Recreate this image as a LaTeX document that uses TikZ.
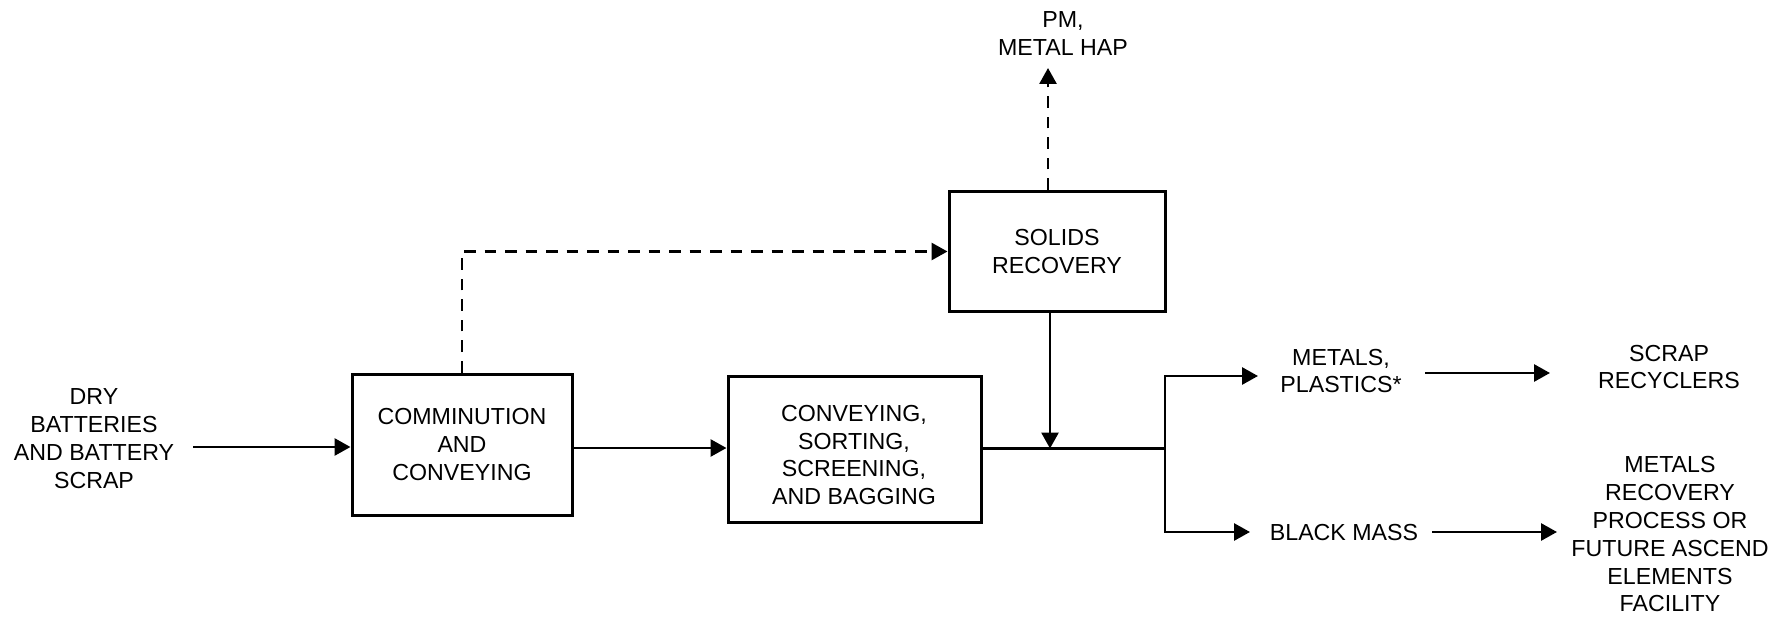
\documentclass[tikz,border=0pt]{standalone}
\usepackage{fontspec}
\setmainfont{Liberation Sans}
\usetikzlibrary{arrows.meta}
\begin{document}
\begin{tikzpicture}[x=1pt,y=-1pt,
  every node/.style={font=\fontsize{23.2}{27.8}\selectfont, align=center},
  box/.style={draw, line width=3pt, inner sep=0pt},
  lbl/.style={inner sep=0pt},
  arr/.style={line width=2.8pt, -{Triangle[length=16pt,width=17pt]}},
  ln/.style={line width=2.8pt},
  dsh/.style={dash pattern=on 11.5pt off 9pt}]
\useasboundingbox (0,0) rectangle (1782,617);
% boxes
\node[box, minimum width=220pt, minimum height=141pt] (comm) at (462,444.5) {COMMINUTION\\AND\\CONVEYING};
\node[box, minimum width=253pt, minimum height=146pt] (conv) at (854.5,449) {};
\node[lbl] (convt) at (854,455) {CONVEYING,\\SORTING,\\SCREENING,\\AND BAGGING};
\node[box, minimum width=216pt, minimum height=120pt] (solids) at (1057,251.5) {SOLIDS\\RECOVERY};
% labels
\node[lbl] (dry) at (94,438.5) {DRY\\BATTERIES\\AND BATTERY\\SCRAP};
\node[lbl] (pm) at (1063,33.5) {PM,\\METAL HAP};
\node[lbl] (metals) at (1341,371) {METALS,\\PLASTICS*};
\node[lbl] (scrap) at (1669,367) {SCRAP\\RECYCLERS};
\node[lbl] (black) at (1344,533) {BLACK MASS};
\node[lbl] (mrp) at (1670,534.5) {METALS\\RECOVERY\\PROCESS OR\\FUTURE ASCEND\\ELEMENTS\\FACILITY};
% coordinates
\coordinate (d0) at (193,447);
\coordinate (pmt) at (1048,68);
\coordinate (j) at (1165,448.5);
\coordinate (m) at (1050,448.5);
\coordinate (tu) at (1258,376);
\coordinate (tb) at (1250,532);
\coordinate (r1s) at (1425,373);
\coordinate (r1e) at (1550,373);
\coordinate (r2s) at (1432,532);
\coordinate (r2e) at (1557,532);
% connectors
\draw[arr] (d0) -- (d0 -| comm.west);
\draw[arr] (comm.east |- 0,448) -- (conv.west |- 0,448);
\draw[arr,dsh] (comm.north) |- (solids.west);
\draw[arr,dsh] (pmt |- solids.north) -- (pmt);
\draw[ln] (conv.east |- j) -- (j);
\draw[arr] (m |- solids.south) -- (m);
\draw[arr] (j) |- (tu);
\draw[arr] (j) |- (tb);
\draw[arr] (r1s) -- (r1e);
\draw[arr] (r2s) -- (r2e);
\end{tikzpicture}
\end{document}
